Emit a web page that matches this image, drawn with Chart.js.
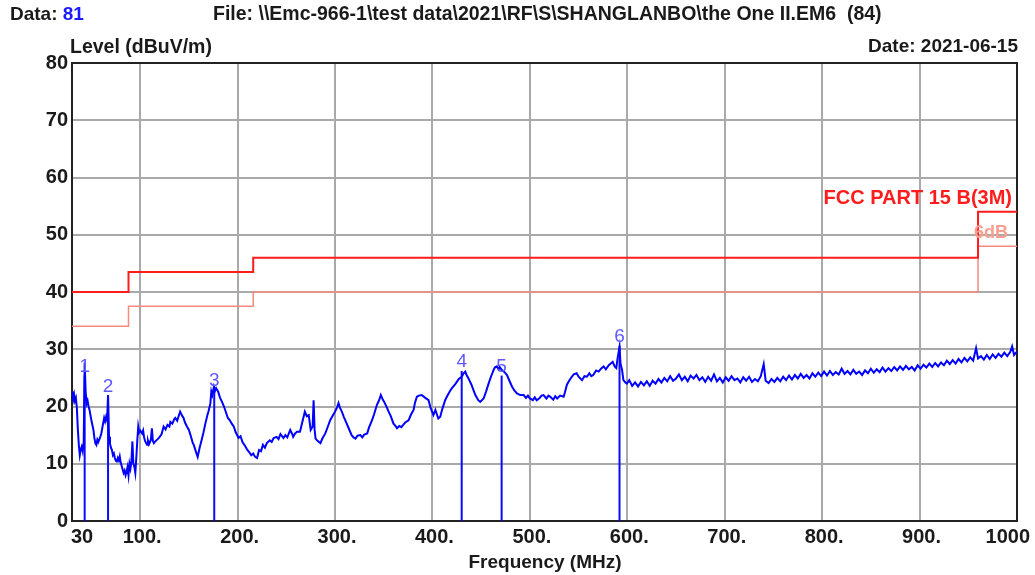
<!DOCTYPE html>
<html>
<head>
<meta charset="utf-8">
<title>the One II.EM6</title>
<script src="https://cdn.jsdelivr.net/npm/chart.js@4.4.1/dist/chart.umd.min.js"></script>
<style>
    html, body { margin: 0; padding: 0; background: #fff; }
    canvas { display: block; }
</style>
</head>
<body>
<canvas id="chart-emc" width="1035" height="575"></canvas>
<script>
// axis ticks
var freqTicks = [30, 100, 200, 300, 400, 500, 600, 700, 800, 900, 1000];
var freqTickLabels = ['30', '100.', '200.', '300.', '400.', '500.', '600.', '700.', '800.', '900.', '1000'];

// FCC part 15 B (3m) limit: level steps between the edge frequencies
var limitEdges = [30, 88, 216, 960, 1000];
var limitLevels = [40, 43.5, 46, 54];
var limitMargin = 6;

// peak markers
var markerIds = ['1', '2', '3', '4', '5', '6'];
var markerFreqs = [43, 67, 176, 430, 471, 592];
var markerLevels = [25.4, 21.8, 23.0, 26.2, 25.4, 30.6];

// measured sweep [MHz, dBuV/m]
var sweep = [
    [30,22.6],[31,21.8],[32,22.3],[33,21],[34,21.5],[35,19.7],[36,16],[37,13.3],[38,11.5],[39,12.5],
    [40,13],[41,12.2],[42,13.6],[43,27.7],[44,22.6],[45,20.5],[46,21],[47,20],[48,19.4],[50,17.5],
    [52,15.9],[53,14.5],[54,13.6],[55,13.3],[56,14.2],[57,13.8],[59,14.7],[60,15.2],[62,17.1],[63,18],
    [64,17.4],[65,18.2],[66,17.6],[67,22],[68,14.7],[69,13.5],[70,12.8],[71,12.4],[72,11.5],[73,11.8],
    [74,11],[75,10.5],[76,10.4],[77,11],[78,10.6],[79,11.3],[80,10.2],[81,9.6],[82,9],[83,8.4],
    [84,8.8],[85,8],[86,8.6],[87,9.4],[88,8],[89,10],[90,9.2],[91,10.5],[92,13.9],[93,10],
    [94,9.5],[95,8.4],[96,11],[97,14],[98,16.5],[99,15.5],[100,15.8],[102,15.3],[103,15.8],[104,14.6],
    [105,14],[107,13.3],[108,14],[109,13.4],[110,13.8],[111,14.2],[112,16.2],[113,14],[114,13.6],[116,14],
    [118,14.3],[120,14.7],[122,15.2],[124,16.5],[126,16],[128,16.8],[130,16.5],[131,17.3],[133,17],[135,17.8],
    [136,18],[138,17.5],[140,18.6],[141,19.1],[143,18.4],[144.5,18],[146,17.2],[148,16.5],[150,15.9],[152,14.8],
    [154,13.6],[155,13.3],[157,12.2],[159,11.2],[161,12.8],[163,14.1],[165,15.5],[167,17.1],[169,18.5],[170,19.1],
    [172,20.5],[173,22.6],[174,22],[175.7,23.5],[177,22.8],[178,23.2],[180,22.6],[182,21.5],[184,20.8],[186,20],
    [188,19],[190,18],[192,17.6],[194,17],[196,16.5],[198,15.5],[201,14.5],[203,14.8],[205,13.8],[208,13],
    [210,12.4],[212,12],[214,11.5],[216,11.8],[218,11.2],[220,11],[222,12.4],[224,12.2],[226,13.3],[228,12.8],
    [230,13.6],[233,14.1],[235,13.8],[237,14.5],[240,14.7],[242,14.3],[244,15.2],[247,14.5],[249,15],[251,14.6],
    [254,15.9],[256,15.2],[257,14.7],[259,15.3],[261,15.6],[264,15.6],[266,17],[269,19.1],[271,18.3],[273,18.5],
    [275,15.9],[277,16.5],[278,21.1],[279,16],[280,14.4],[282,14],[285,13.6],[287,14.4],[290,15.3],[292,16.2],
    [295,17.6],[298,18.5],[300,19.1],[302,19.8],[303.6,20.6],[305,19.8],[307,19.1],[309,18.2],[312,17],[314,16.2],
    [317,15],[319,14.6],[321,14.4],[323,14.9],[326,15],[328,14.6],[330,15.1],[333,15.3],[335,16.4],[338,17.6],
    [340,18.6],[343,20.3],[345,21],[347,22],[349,21.2],[350.5,20.8],[353,19.9],[355,19.1],[357,18.4],[360,17],
    [362,16.6],[363.6,16.2],[366,16.6],[368,16.4],[370,16.8],[372,17.2],[375.5,17.6],[378,18.6],[380.6,19.4],[382,20.6],
    [384,21.7],[386,21.9],[389,22],[392,21.6],[396,21.1],[398,19.8],[401,18.5],[403,19.4],[406,17.9],[408,18.2],
    [410,19.5],[413,21.1],[415,21.8],[418,22.7],[420,23.2],[423,23.8],[425,24.3],[427,24.8],[430,25.2],[432,25.8],
    [433.7,26.1],[435,25.5],[437,24.9],[440,23.8],[442,22.9],[444,22],[447,21.1],[449,20.8],[452.5,21.4],[455,22.6],
    [457.6,24],[460,25.2],[462.8,26.4],[464,26.8],[466,27],[468,26.5],[469,26.9],[471,26.4],[474,26],[476.5,25.5],
    [479,24.5],[481.6,23.5],[484,22.8],[486.8,22.3],[490,22],[493.6,22],[496,21.5],[498,21.9],[500,21.4],[503,21.1],
    [505,21.6],[507,21.1],[510,21.5],[512,21.9],[514,22],[517,21.4],[519,21.9],[521,21.7],[524,21.2],[526,21.8],
    [528,21.4],[531,21.9],[534.6,21.7],[536,22.5],[538,23.8],[540,24.4],[543,25.2],[545,25.6],[548,25.8],[550,25.2],
    [553.5,24.6],[556,25.3],[558.6,25.2],[561,25.8],[563,25.3],[565,25.5],[568,26.3],[570.6,26.1],[573,26.6],[575.7,27],
    [578,26.5],[581,27.2],[583,27.5],[585,27.8],[587,27],[588.7,26.7],[590,28.4],[592,30.4],[593,27.5],[594.6,26.4],
    [596,24.6],[598,24.2],[599.6,24],[602,24.6],[605,23.6],[608,24.2],[611,23.5],[614,24.3],[617,23.7],[620,24.4],
    [623,23.6],[626,24.5],[629,24],[632,24.8],[635,24.2],[638,25],[641,24.4],[644,25.3],[647,24.5],[650,24.9],
    [653,25.6],[656,24.6],[659,25.2],[662,24.4],[665,25.4],[668,24.9],[671,25.5],[674,24.6],[677,25.1],[680,24.3],
    [683,25.2],[686,24.5],[689,25.6],[692,24.4],[695,25],[698,24.2],[701,25.1],[704,24.5],[707,25.3],[710,24.6],
    [713,24.9],[716,24.2],[719,25.1],[722,24.5],[725,25.2],[728,24.3],[731,24.8],[734,24.4],[737,25.3],[740,27.4],
    [742,24.5],[745,24.1],[748,24.8],[751,24.3],[754,25],[757,24.4],[760,25.2],[763,24.6],[766,25.4],[769,24.7],
    [772,25.5],[775,24.9],[778,25.7],[781,25],[784,25.5],[787,24.9],[790,25.8],[793,25.2],[796,25.9],[799,25.3],
    [802,26.1],[805,25.4],[808,26.2],[811,25.5],[814,26],[817,25.6],[820,26.6],[823,25.7],[826,26.2],[829,25.6],
    [832,26.4],[835,25.7],[838,26.1],[841,25.5],[844,26.3],[847,25.8],[850,26.6],[853,25.9],[856,26.5],[859,26],
    [862,26.8],[865,26.1],[868,26.7],[871,26.2],[874,26.9],[877,26.3],[880,27],[883,26.4],[886,27.1],[889,26.5],
    [892,26.9],[895,26.3],[898,27.2],[901,26.6],[904,27.3],[907,26.8],[910,27.5],[913,26.9],[916,27.6],[919,27],
    [922,27.7],[925,27.2],[928,28],[931,27.4],[934,28.1],[937,27.5],[940,28.3],[943,27.7],[946,28.5],[949,27.9],
    [952,28.6],[955,28],[958,30.2],[960,28.4],[963,28.8],[966,28.2],[969,29],[972,28.3],[975,29.1],[978,28.5],
    [981,29.2],[984,28.7],[987,29.4],[990,28.8],[993,29.5],[995,30.5],[997,29],[1000,29.6]
];

var FONT = '"Liberation Sans", Arial, sans-serif';
var TEXT = '#1a1a1a';

function stepLine(offset) {
    var pts = [];
    for (var i = 0; i < limitLevels.length; i++) {
        pts.push({ x: limitEdges[i], y: limitLevels[i] - offset });
        pts.push({ x: limitEdges[i + 1], y: limitLevels[i] - offset });
    }
    return pts;
}

var datasets = [
    {
        label: 'FCC PART 15 B(3M)',
        data: stepLine(0),
        borderColor: '#ff1c1c',
        borderWidth: 2
    },
    {
        label: '6dB',
        data: stepLine(limitMargin),
        borderColor: '#f58a80',
        borderWidth: 1.5
    },
    {
        label: 'Level',
        data: sweep.map(function (p) { return { x: p[0], y: p[1] }; }),
        borderColor: '#0000ff',
        borderWidth: 2
    }
];

markerFreqs.forEach(function (f, i) {
    datasets.push({
        label: 'marker ' + markerIds[i],
        data: [{ x: f, y: 0 }, { x: f, y: markerLevels[i] }],
        borderColor: '#0a0aff',
        borderWidth: 2
    });
});

// frame, header texts, tick labels and marker numbers
var decorations = {
    id: 'decorations',
    beforeDatasetsDraw: function (chart) {
        var a = chart.chartArea, ctx = chart.ctx;
        ctx.save();
        ctx.strokeStyle = '#222';
        ctx.lineWidth = 2;
        ctx.strokeRect(a.left, a.top, a.right - a.left, a.bottom - a.top);
        ctx.restore();
    },
    afterDraw: function (chart) {
        var ctx = chart.ctx, x = chart.scales.x, y = chart.scales.y, a = chart.chartArea;
        ctx.save();
        ctx.textBaseline = 'middle';

        ctx.font = 'bold 19px ' + FONT;
        ctx.fillStyle = TEXT;
        ctx.textAlign = 'left';
        ctx.fillText('Data: ', 10, 15);
        var w = ctx.measureText('Data: ').width;
        ctx.fillStyle = '#1a1aff';
        ctx.fillText('81', 10 + w, 15);
        ctx.fillStyle = TEXT;
        ctx.font = 'bold 19.5px ' + FONT;
        ctx.fillText('File: \\\\Emc-966-1\\test data\\2021\\RF\\S\\SHANGLANBO\\the One II.EM6  (84)', 213, 15);
        ctx.fillText('Level (dBuV/m)', 70, 48);
        ctx.font = 'bold 19px ' + FONT;
        ctx.textAlign = 'right';
        ctx.fillText('Date: 2021-06-15', 1018, 47);

        ctx.textAlign = 'center';
        ctx.fillText('Frequency (MHz)', 545, 563);

        // frequency tick labels
        ctx.font = 'bold 20px ' + FONT;
        freqTicks.forEach(function (f, i) {
            var px = x.getPixelForValue(f);
            if (i === 0) { ctx.textAlign = 'left'; px -= 1; }
            else if (i === freqTicks.length - 1) { ctx.textAlign = 'right'; px += 13; }
            else { ctx.textAlign = 'center'; px += 2; }
            ctx.fillText(freqTickLabels[i], px, 537);
        });

        // limit labels
        ctx.textAlign = 'right';
        ctx.font = 'bold 20px ' + FONT;
        ctx.fillStyle = '#ff1c1c';
        var last = limitLevels.length - 1;
        ctx.fillText('FCC PART 15 B(3M)', a.right - 5, y.getPixelForValue(limitLevels[last]) - 13);
        ctx.font = 'bold 18px ' + FONT;
        ctx.fillStyle = '#f5a090';
        ctx.fillText('6dB', a.right - 9, y.getPixelForValue(limitLevels[last] - limitMargin) - 13);

        // marker numbers
        ctx.font = '19px ' + FONT;
        ctx.fillStyle = '#6058ff';
        ctx.textAlign = 'center';
        markerFreqs.forEach(function (f, i) {
            ctx.fillText(markerIds[i], x.getPixelForValue(f), y.getPixelForValue(markerLevels[i]) - 9);
        });
        ctx.restore();
    }
};

var canvasEmc = document.getElementById('chart-emc');

if (canvasEmc) var chartEmc = new Chart(canvasEmc.getContext('2d'), {
    type: 'line',
    data: { datasets: datasets },
    options: {
        responsive: false,
        animation: false,
        layout: { padding: { top: 63, right: 18, left: 0, bottom: 0 } },
        elements: {
            point: { radius: 0 },
            line: { tension: 0, fill: false }
        },
        plugins: {
            legend: { display: false },
            title: { display: false },
            tooltip: { enabled: false }
        },
        scales: {
            x: {
                type: 'linear',
                min: 30,
                max: 1000,
                afterBuildTicks: function (scale) {
                    scale.ticks = freqTicks.map(function (v) { return { value: v }; });
                },
                afterFit: function (scale) { scale.height = 54; },
                ticks: { display: false },
                grid: { color: '#a9a9a9', lineWidth: 2, drawTicks: false },
                border: { display: false }
            },
            y: {
                min: 0,
                max: 80,
                afterFit: function (scale) { scale.width = 72; },
                ticks: {
                    stepSize: 10,
                    padding: 4,
                    color: TEXT,
                    font: { family: FONT, size: 20, weight: 'bold' }
                },
                grid: { color: '#a9a9a9', lineWidth: 2, drawTicks: false },
                border: { display: false }
            }
        }
    },
    plugins: [decorations]
});
</script>
</body>
</html>
